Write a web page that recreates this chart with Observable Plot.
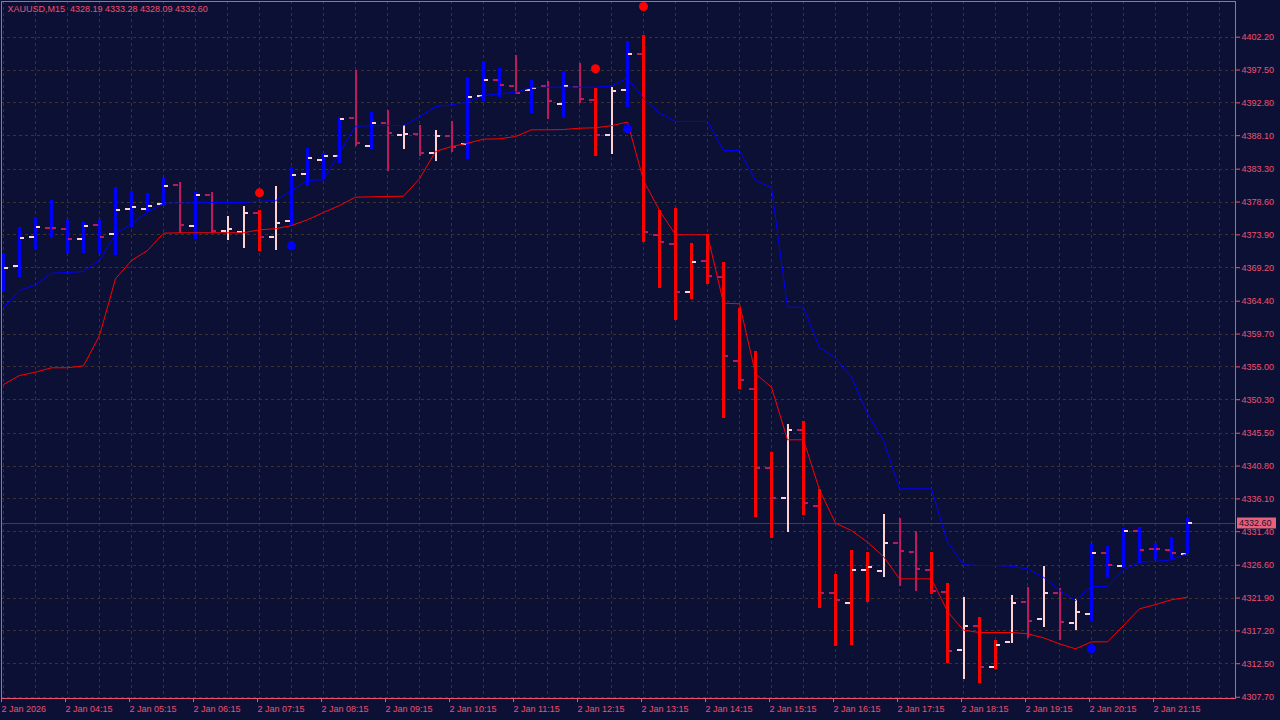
<!DOCTYPE html>
<html><head><meta charset="utf-8">
<script src="https://cdn.jsdelivr.net/npm/d3@7"></script>
<script src="https://cdn.jsdelivr.net/npm/@observablehq/plot@0.6"></script>
<style>
html,body{margin:0;padding:0;background:#0d1035;overflow:hidden}
#chart{width:1280px;height:720px}
</style></head><body><div id="chart"></div>
<script>
const headerText = "XAUUSD,M15  4328.19 4333.28 4328.09 4332.60";
const lastPrice = 4332.60;

// x tick labels every 4 bars (1 hour), starting at bar 0
const timeLabels = ["2 Jan 2026","2 Jan 04:15","2 Jan 05:15","2 Jan 06:15","2 Jan 07:15","2 Jan 08:15","2 Jan 09:15","2 Jan 10:15","2 Jan 11:15","2 Jan 12:15","2 Jan 13:15","2 Jan 14:15","2 Jan 15:15","2 Jan 16:15","2 Jan 17:15","2 Jan 18:15","2 Jan 19:15","2 Jan 20:15","2 Jan 21:15"];
const yTicks = [4402.2,4397.5,4392.8,4388.1,4383.3,4378.6,4373.9,4369.2,4364.4,4359.7,4355.0,4350.3,4345.5,4340.8,4336.1,4331.4,4326.6,4321.9,4317.2,4312.5,4307.7];

const opens = [4366.65,4369.37,4373.56,4374.95,4374.67,4373.24,4375.28,4374.05,4377.57,4377.67,
4378.25,4381.01,4375.10,4379.58,4374.42,4374.34,4377.00,4373.56,4375.85,4382.64,
4384.55,4385.26,4390.60,4386.59,4389.94,4388.25,4388.27,4385.59,4388.12,4386.84,
4393.75,4396.05,4395.24,4394.67,4395.24,4392.67,4395.14,4393.24,4388.17,4394.61,
4399.82,4373.85,4372.56,4365.65,4370.13,4367.84,4355.81,4351.80,4340.49,4336.29,
4345.89,4335.15,4322.59,4321.16,4325.98,4325.74,4329.75,4328.46,4325.98,4322.74,
4314.53,4317.97,4312.10,4315.68,4321.40,4318.87,4322.59,4318.30,4319.58,4328.32,
4326.56,4331.43,4328.95,4328.71,4328.19];
const highs = [4371.09,4375.00,4376.20,4378.82,4375.95,4375.67,4375.95,4380.64,4380.07,4379.78,
4381.93,4381.35,4379.92,4380.01,4376.57,4377.96,4377.39,4380.82,4383.55,4386.26,
4385.50,4390.75,4397.43,4391.42,4391.71,4389.56,4389.56,4388.84,4390.13,4396.39,
4398.68,4397.76,4399.58,4396.00,4395.86,4397.29,4398.48,4394.81,4394.96,4401.58,
4402.44,4377.39,4377.63,4372.62,4373.91,4369.90,4363.40,4357.20,4342.78,4346.75,
4347.22,4337.40,4325.27,4328.66,4328.46,4333.86,4333.24,4331.43,4328.38,4323.94,
4322.02,4319.15,4315.78,4322.26,4323.41,4326.41,4323.27,4321.69,4329.52,4329.23,
4331.81,4332.00,4329.75,4330.52,4333.28];
const lows = [4365.65,4367.84,4371.80,4373.56,4371.27,4371.27,4371.18,4370.90,4375.00,4377.29,
4378.10,4374.05,4373.19,4374.05,4373.09,4371.99,4371.56,4371.66,4375.24,4380.87,
4381.78,4384.07,4386.59,4386.12,4383.02,4386.12,4385.16,4384.46,4385.69,4384.65,
4393.04,4393.52,4394.10,4391.32,4390.37,4390.60,4392.75,4385.16,4385.45,4392.18,
4372.85,4366.26,4361.63,4364.64,4366.79,4347.65,4351.72,4333.48,4330.38,4331.33,
4333.72,4320.44,4314.99,4315.10,4321.30,4324.88,4323.59,4322.88,4322.36,4312.48,
4310.24,4309.71,4311.67,4315.43,4316.15,4317.72,4315.82,4317.25,4318.44,4324.74,
4326.23,4326.89,4327.37,4327.37,4328.09];
const closes = [4369.15,4373.42,4375.00,4374.85,4373.24,4375.14,4373.56,4377.39,4377.86,4378.06,
4380.92,4375.28,4379.58,4374.52,4374.71,4377.10,4373.66,4375.57,4382.54,4384.97,
4385.16,4390.42,4387.02,4389.89,4388.46,4388.27,4385.59,4388.02,4386.55,4393.61,
4396.05,4395.33,4394.18,4394.86,4393.04,4395.24,4393.32,4388.17,4394.47,4399.77,
4374.28,4372.81,4365.65,4369.98,4367.94,4356.53,4353.09,4340.49,4336.26,4346.03,
4335.58,4322.69,4321.69,4325.98,4326.31,4329.75,4328.60,4326.13,4322.88,4314.39,
4317.97,4312.10,4315.15,4321.26,4318.68,4322.69,4318.44,4319.97,4328.32,4326.70,
4331.43,4328.85,4328.90,4328.32,4332.60];
// signal painting: "up" = blue bar, "dn" = red bar, "-" = none
const signal = ["up","up","up","up","up","up","up","up","up","up",
"up","-","up","-","-","-","dn","-","up","up",
"up","up","-","up","-","-","-","-","-","up",
"up","up","-","up","-","up","-","dn","-","up",
"dn","dn","dn","dn","dn","dn","dn","dn","dn","-",
"dn","dn","dn","dn","dn","-","-","-","dn","dn",
"-","dn","dn","-","-","-","-","-","up","up",
"up","up","up","up","up"];
const blueLine = [4363.46,4365.93,4366.75,4368.41,4368.51,4368.65,4370.23,4374.05,4375.48,4377.14,
4378.43,4378.43,4378.49,4378.53,4378.53,4378.53,4378.72,4378.78,4380.25,4381.68,
4381.78,4385.65,4389.46,4389.52,4389.56,4389.56,4390.75,4392.28,4392.52,4392.89,
4393.85,4394.10,4394.33,4394.96,4395.04,4395.04,4395.04,4395.04,4395.19,4396.36,
4393.38,4391.32,4390.13,4390.13,4390.13,4385.98,4385.98,4381.68,4380.64,4363.54,
4363.54,4357.77,4356.27,4353.52,4348.28,4344.46,4337.54,4337.54,4337.54,4329.89,
4326.67,4326.56,4326.56,4326.46,4326.08,4324.88,4322.98,4321.55,4323.55,4323.55,
4325.94,4327.03,4327.17,4327.37,4328.32];
const redLine = [4352.47,4353.76,4354.24,4354.87,4354.87,4355.15,4359.49,4367.61,4370.23,4371.66,
4374.14,4374.20,4374.20,4374.20,4374.20,4374.20,4374.63,4374.77,4375.24,4376.06,
4377.10,4378.10,4379.29,4379.35,4379.39,4379.44,4381.93,4385.84,4386.55,4387.02,
4387.60,4387.65,4387.98,4388.94,4388.94,4388.98,4389.17,4389.23,4389.53,4390.06,
4381.68,4377.39,4373.91,4373.91,4373.91,4364.12,4364.03,4354.01,4352.09,4344.56,
4344.56,4337.40,4332.62,4331.57,4329.90,4327.85,4324.65,4324.65,4324.65,4319.97,
4317.30,4316.97,4316.97,4316.97,4316.78,4316.21,4315.35,4314.63,4315.63,4315.63,
4317.97,4320.36,4320.97,4321.65,4322.02];
const redDotBars = [16, 37, 40];
const redDotValues = [4379.92, 4397.68, 4406.60];
const blueDotBars = [18, 39, 68];
const blueDotValues = [4372.33, 4389.09, 4314.63];

const C = {
  bg: "#0d1035", axis: "#f0506e", grid: "#3d3522", gridV: "#36323a",
  blue: "#0000ff", red: "#ff0000", crimson: "#c0185c", pink: "#ffd2d2",
  priceLine: "#4b4020", priceBox: "#e8607a", priceText: "#1a1030"
};

const bars = opens.map((o, i) => ({i, open: o, high: highs[i], low: lows[i], close: closes[i], sig: signal[i]}));
const tickColor = d => d.close >= d.open ? C.pink : C.crimson;
const xTicks = timeLabels.map((_, k) => k * 4);
const vGrid = d3.range(0, 77, 2);
const font = "'Liberation Sans', Arial, sans-serif";

const chart = Plot.plot({
  width: 1280, height: 720,
  marginLeft: 1, marginRight: 45, marginTop: 1, marginBottom: 22,
  style: {background: C.bg, color: C.axis, fontFamily: font, fontSize: "9px"},
  x: {type: "linear", domain: [-0.125, 77], axis: null, label: null},
  y: {domain: [4307.52, 4407.31], axis: null, label: null},
  marks: [
    Plot.ruleY(yTicks, {stroke: C.grid, strokeOpacity: 1, strokeDasharray: "3,3", shapeRendering: "crispEdges"}),
    Plot.ruleX(vGrid, {stroke: C.gridV, strokeOpacity: 1, strokeDasharray: "3,3", shapeRendering: "crispEdges"}),
    Plot.ruleY([lastPrice], {stroke: C.priceLine, shapeRendering: "crispEdges"}),
    Plot.ruleX(bars, {x: "i", y1: "low", y2: "high", stroke: tickColor, strokeWidth: 2, shapeRendering: "crispEdges"}),
    Plot.ruleX(bars.filter(d => d.sig !== "-"), {x: "i", y1: "low", y2: "high", stroke: d => d.sig === "up" ? C.blue : C.red, strokeWidth: 3, shapeRendering: "crispEdges"}),
    Plot.ruleY(bars, {y: "open", x1: d => d.i - 0.36, x2: d => d.i - 0.08, stroke: tickColor, strokeWidth: 2, shapeRendering: "crispEdges", clip: true}),
    Plot.ruleY(bars, {y: "close", x1: d => d.i + 0.08, x2: d => d.i + 0.34, stroke: tickColor, strokeWidth: 2, shapeRendering: "crispEdges", clip: true}),
    Plot.line(blueLine, {x: (d, i) => i, y: d => d, stroke: C.blue, strokeWidth: 1, clip: true}),
    Plot.line(redLine, {x: (d, i) => i, y: d => d, stroke: C.red, strokeWidth: 1, clip: true}),
    Plot.dot(redDotBars, {x: d => d, y: (d, k) => redDotValues[k], r: 4.5, fill: C.red, stroke: null}),
    Plot.dot(blueDotBars, {x: d => d, y: (d, k) => blueDotValues[k], r: 4.5, fill: C.blue, stroke: null}),
    Plot.frame({stroke: C.axis}),
    Plot.axisY({anchor: "right", ticks: yTicks, tickFormat: d => d.toFixed(2), tickSize: 4, tickPadding: 2, fontSize: 9, label: null}),
    Plot.axisX({anchor: "bottom", ticks: xTicks, tickFormat: d => timeLabels[d / 4], tickSize: 4, tickPadding: 3, textAnchor: "start", dx: -2, fontSize: 9, label: null}),
    Plot.text([headerText], {frameAnchor: "top-left", dx: 6, dy: 4, textAnchor: "start", lineAnchor: "top", fill: C.axis, fontSize: 9}),
    (index, scales, values, dims) => {
      const y = scales.y(lastPrice);
      const x0 = dims.width - dims.marginRight + 2;
      const g = d3.create("svg:g");
      g.append("rect").attr("x", x0).attr("y", Math.round(y) - 5.5).attr("width", 39).attr("height", 11).attr("fill", C.priceBox);
      g.append("text").attr("x", x0 + 2).attr("y", y).attr("dy", "0.35em").attr("fill", C.priceText)
        .attr("text-anchor", "start").attr("font-size", 9).attr("font-family", font).text(lastPrice.toFixed(2));
      return g.node();
    }
  ]
});
document.getElementById("chart").append(chart);
</script>
</body></html>
